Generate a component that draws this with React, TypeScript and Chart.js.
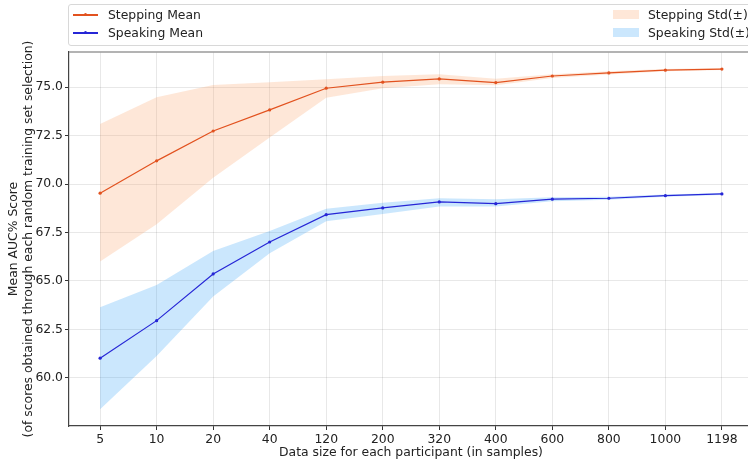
import React, { useEffect, useRef } from "react";
import { Chart, registerables } from "chart.js";

Chart.register(...registerables);

const categories = ["5", "10", "20", "40", "120", "200", "320", "400", "600", "800", "1000", "1198"];
const steppingMean = [69.53, 71.2, 72.74, 73.83, 74.95, 75.26, 75.43, 75.24, 75.58, 75.74, 75.88, 75.94];
const steppingUpper = [73.1, 74.48, 75.12, 75.26, 75.41, 75.58, 75.67, 75.44, 75.67, 75.82, 75.94, 75.99];
const steppingLower = [66.0, 67.93, 70.33, 72.4, 74.46, 74.95, 75.15, 75.1, 75.48, 75.66, 75.82, 75.89];
const speakingMean = [61.01, 62.95, 65.36, 67.01, 68.42, 68.77, 69.08, 68.99, 69.22, 69.27, 69.4, 69.49];
const speakingUpper = [63.64, 64.79, 66.55, 67.58, 68.73, 69.04, 69.27, 69.22, 69.32, 69.35, 69.46, 69.54];
const speakingLower = [58.37, 61.13, 64.19, 66.43, 68.08, 68.46, 68.84, 68.84, 69.12, 69.19, 69.34, 69.44];
const yTicks = [60, 62.5, 65, 67.5, 70, 72.5, 75];

const FONT = "'DejaVu Sans', sans-serif";
const FS = 12.4;
const STEP_LINE = "#e2521f";
const SPEAK_LINE = "#2626d6";
const STEP_FILL = "rgba(250,160,100,0.25)";
const SPEAK_FILL = "rgba(30,150,245,0.23)";

const pts = (arr: number[]) => arr.map((y, i) => ({ x: i, y }));

const topBorder = {
  id: "topBorder",
  afterDraw(chart: any) {
    const { ctx, chartArea } = chart;
    ctx.save();
    ctx.strokeStyle = "#9a9a9a";
    ctx.lineWidth = 1.5;
    ctx.beginPath();
    ctx.moveTo(chartArea.left, chartArea.top);
    ctx.lineTo(chartArea.right, chartArea.top);
    ctx.stroke();
    ctx.restore();
  },
};

export default function App() {
  const ref = useRef<HTMLCanvasElement>(null);
  useEffect(() => {
    if (!ref.current) return;
    const bandBase = { pointRadius: 0, borderWidth: 0, tension: 0 };
    const chart = new Chart(ref.current, {
      type: "line",
      data: {
        datasets: [
          { ...bandBase, label: "su", data: pts(steppingUpper), fill: "+1", backgroundColor: STEP_FILL, borderColor: "rgba(0,0,0,0)", order: 3 },
          { ...bandBase, label: "sl", data: pts(steppingLower), fill: false, borderColor: "rgba(0,0,0,0)", order: 3 },
          { ...bandBase, label: "pu", data: pts(speakingUpper), fill: "+1", backgroundColor: SPEAK_FILL, borderColor: "rgba(0,0,0,0)", order: 3 },
          { ...bandBase, label: "pl", data: pts(speakingLower), fill: false, borderColor: "rgba(0,0,0,0)", order: 3 },
          { label: "Stepping Mean", data: pts(steppingMean), borderColor: STEP_LINE, backgroundColor: STEP_LINE, borderWidth: 1.2, pointRadius: 1.6, pointBorderWidth: 0, fill: false, tension: 0, order: 1 },
          { label: "Speaking Mean", data: pts(speakingMean), borderColor: SPEAK_LINE, backgroundColor: SPEAK_LINE, borderWidth: 1.2, pointRadius: 1.6, pointBorderWidth: 0, fill: false, tension: 0, order: 1 },
        ],
      },
      options: {
        animation: false,
        responsive: false,
        maintainAspectRatio: false,
        layout: { padding: { top: 52, left: 0, right: 7, bottom: 0 } },
        plugins: { legend: { display: false }, tooltip: { enabled: false } },
        scales: {
          x: {
            type: "linear",
            min: -0.55,
            max: 11.55,
            afterBuildTicks: (s: any) => {
              s.ticks = categories.map((_, i) => ({ value: i }));
            },
            afterFit: (s: any) => {
              s.height = 35;
            },
            ticks: {
              autoSkip: false,
              maxRotation: 0,
              padding: 2,
              color: "#222",
              font: { family: FONT, size: FS },
              callback: (v: any) => categories[Math.round(Number(v))] ?? "",
            },
            grid: { color: "rgba(0,0,0,0.09)", tickColor: "#333", tickLength: 4, lineWidth: 1 },
            border: { color: "#444", width: 1.2 },
            title: {
              display: true,
              text: "Data size for each participant (in samples)",
              color: "#222",
              font: { family: FONT, size: FS },
              padding: { top: 0, bottom: 1 },
            },
          },
          y: {
            type: "linear",
            min: 57.51,
            max: 76.82,
            afterBuildTicks: (s: any) => {
              s.ticks = yTicks.map((v) => ({ value: v }));
            },
            afterFit: (s: any) => {
              s.width = 69;
            },
            ticks: {
              padding: 2,
              color: "#222",
              font: { family: FONT, size: FS },
              callback: (v: any) => Number(v).toFixed(1),
            },
            grid: { color: "rgba(0,0,0,0.09)", tickColor: "#333", tickLength: 4, lineWidth: 1 },
            border: { color: "#444", width: 1.2 },
            title: {
              display: true,
              text: ["Mean AUC% Score", "(of scores obtained through each random training set selection)"],
              color: "#222",
              font: { family: FONT, size: FS, lineHeight: 1.2 },
              padding: { top: 6, bottom: 0 },
            },
          },
        },
      },
      plugins: [topBorder],
    } as any);
    return () => chart.destroy();
  }, []);

  const txt: React.CSSProperties = { position: "absolute", fontFamily: FONT, fontSize: FS, color: "#222", whiteSpace: "nowrap", lineHeight: "16px" };
  const lineSample = (color: string, top: number): React.CSSProperties => ({ position: "absolute", left: 73, top, width: 25, height: 1.5, background: color });
  const dot = (color: string, top: number): React.CSSProperties => ({ position: "absolute", left: 84, top: top - 1, width: 3, height: 3, borderRadius: 2, background: color });
  const patch = (color: string, top: number): React.CSSProperties => ({ position: "absolute", left: 613, top, width: 26, height: 9, background: color });

  return (
    <div style={{ position: "fixed", left: 0, top: 0, width: 748, height: 461, overflow: "hidden", background: "#fff" }}>
      <canvas ref={ref} width={760} height={461} style={{ position: "absolute", left: 0, top: 0, width: 760, height: 461 }} />
      <div style={{ position: "absolute", left: 68, top: 4, width: 700, height: 40, border: "1px solid #d8d8d8", borderRadius: 3, background: "rgba(255,255,255,0.8)" }} />
      <div style={lineSample(STEP_LINE, 14)} />
      <div style={dot(STEP_LINE, 14)} />
      <div style={{ ...txt, left: 108, top: 7 }}>Stepping Mean</div>
      <div style={lineSample(SPEAK_LINE, 32)} />
      <div style={dot(SPEAK_LINE, 32)} />
      <div style={{ ...txt, left: 108, top: 25 }}>Speaking Mean</div>
      <div style={patch(STEP_FILL, 10)} />
      <div style={{ ...txt, left: 648, top: 7 }}>Stepping Std(±)</div>
      <div style={patch(SPEAK_FILL, 28)} />
      <div style={{ ...txt, left: 648, top: 25 }}>Speaking Std(±)</div>
    </div>
  );
}
